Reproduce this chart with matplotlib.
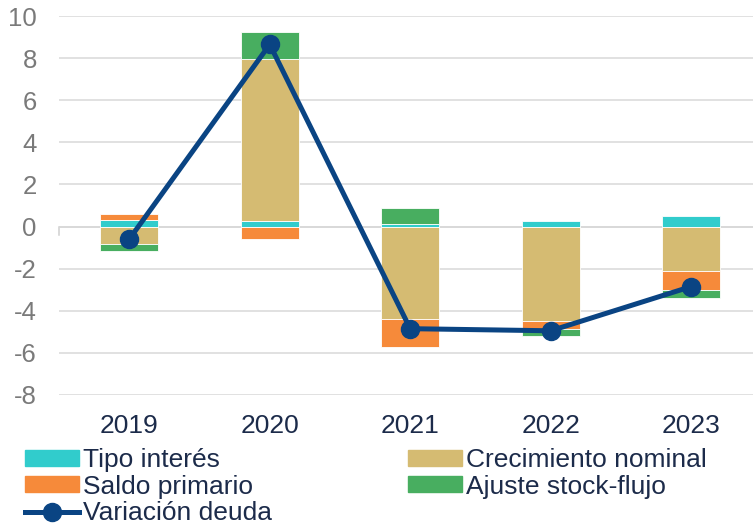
import matplotlib.pyplot as plt
import numpy as np
from matplotlib.lines import Line2D
from matplotlib.patches import Patch

plt.rcParams['font.family'] = ['Liberation Sans', 'DejaVu Sans']
plt.rcParams['axes.unicode_minus'] = False

years = ['2019', '2020', '2021', '2022', '2023']
tipo_interes = [0.3, 0.25, 0.1, 0.28, 0.5]
crecimiento_nominal = [-0.85, 7.7, -4.4, -4.5, -2.1]
saldo_primario = [0.3, -0.6, -1.3, -0.35, -0.9]
ajuste_stock_flujo = [-0.3, 1.3, 0.8, -0.37, -0.4]
variacion_deuda = [-0.6, 8.65, -4.85, -4.95, -2.85]

series = [
    ('Tipo interés', tipo_interes, '#31cccc'),
    ('Crecimiento nominal', crecimiento_nominal, '#d5bb72'),
    ('Saldo primario', saldo_primario, '#f68a3a'),
    ('Ajuste stock-flujo', ajuste_stock_flujo, '#48ae60'),
]
line_color = '#0a4483'
text_color = '#1c2b4a'


def main():
    fig = plt.figure(figsize=(7.53, 5.26), dpi=100)
    ax = fig.add_axes([59 / 753, 131 / 526, 694 / 753, 379 / 526])
    x = np.arange(len(years))
    pos_base = np.zeros(len(years))
    neg_base = np.zeros(len(years))
    for name, vals, col in series:
        v = np.array(vals, dtype=float)
        base = np.where(v >= 0, pos_base, neg_base)
        ax.bar(x, v, 0.41, bottom=base, color=col, edgecolor='white',
               linewidth=0.6, zorder=3)
        pos_base += np.where(v >= 0, v, 0)
        neg_base += np.where(v < 0, v, 0)

    ax.plot(x, variacion_deuda, '-o', color=line_color, linewidth=3.6,
            markersize=13, zorder=5)

    ax.set_xlim(-0.5, 4.44)
    ax.set_ylim(-8, 10)
    ax.set_yticks(np.arange(-8, 11, 2))
    ax.grid(axis='y', color='#d9d9d9', linewidth=1.1, zorder=0)
    ax.axhline(0, color='#d0d0d0', linewidth=1.1, zorder=1)
    ax.plot([-0.5, -0.5], [0, -0.4], color='#d0d0d0', linewidth=1.1,
            clip_on=False, zorder=1)
    for s in ax.spines.values():
        s.set_visible(False)
    ax.set_xticks(x)
    ax.set_xticklabels(years)
    ax.tick_params(axis='x', length=0, pad=14, labelsize=19, labelcolor=text_color)
    ax.tick_params(axis='y', length=0, pad=16, labelsize=18.5, labelcolor='#7a7a7a')

    handles = [
        Patch(color=series[0][2]),
        Patch(color=series[2][2]),
        Line2D([], [], color=line_color, linewidth=3.6, marker='o', markersize=13),
        Patch(color=series[1][2]),
        Patch(color=series[3][2]),
    ]
    labels = ['Tipo interés', 'Saldo primario', 'Variación deuda',
              'Crecimiento nominal', 'Ajuste stock-flujo']
    fig.legend(handles, labels, loc='upper left', bbox_to_anchor=(25 / 753, 1 - 448 / 526),
               ncol=2, frameon=False, fontsize=19, handlelength=2.05,
               handleheight=0.57, handletextpad=0.15, labelspacing=0.1,
               columnspacing=5.15, borderpad=0, borderaxespad=0,
               labelcolor=text_color)

    fig.savefig('out.png', dpi=100)


if __name__ == '__main__':
    main()
